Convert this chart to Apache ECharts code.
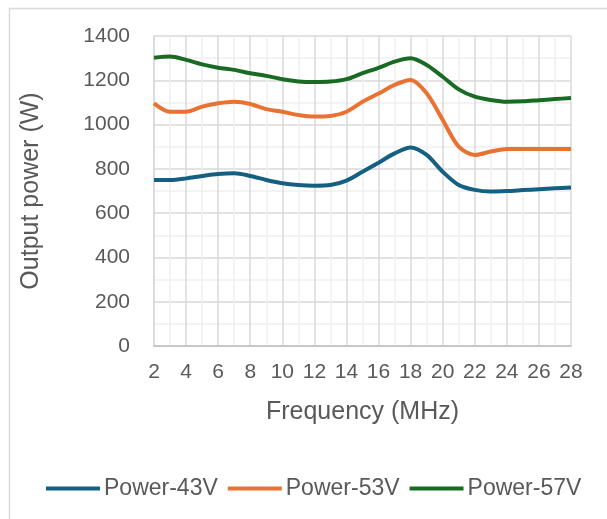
<!DOCTYPE html>
<html lang="en">

<head>
  <meta charset="utf-8">
  <title>Output power vs frequency</title>
  <script src="https://cdn.jsdelivr.net/npm/echarts@6/dist/echarts.min.js"></script>
  <style>
    body {
      margin: 0;
      background: white;
      overflow: hidden;
    }

    main {
      width: 607px;
      height: 519px;
    }
  </style>
</head>

<body>
  <main id="chart"></main>

  <script>
    // --- Data.

    // Frequency points (MHz), one every 1 MHz.
    const FREQUENCIES = [2, 3, 4, 5, 6, 7, 8, 9, 10, 11, 12, 13, 14, 15,
      16, 17, 18, 19, 20, 21, 22, 23, 24, 25, 26, 27, 28];

    // Output power (W) at each frequency.
    const POWER_43V = [750, 750, 757, 768, 777, 780, 768, 750, 735, 727, 724, 727, 747, 787,
      828, 870, 897, 863, 787, 727, 705, 698, 700, 704, 708, 712, 716];
    const POWER_53V = [1096, 1058, 1058, 1081, 1096, 1103, 1093, 1070, 1058, 1043, 1036, 1039, 1058, 1103,
      1140, 1179, 1201, 1141, 1021, 900, 863, 878, 890, 890, 890, 890, 890];
    const POWER_57V = [1302, 1307, 1292, 1272, 1257, 1247, 1232, 1220, 1205, 1195, 1192, 1194, 1205, 1232,
      1256, 1284, 1299, 1269, 1216, 1159, 1126, 1111, 1103, 1105, 1110, 1115, 1120];

    const SERIES_NAMES = ['Power-43V', 'Power-53V', 'Power-57V'];
    const SERIES_VALUES = [POWER_43V, POWER_53V, POWER_57V];
    const SERIES_COLORS = ['#156082', '#e97132', '#196b24'];

    // --- Style constants.

    const FONT = 'Liberation Sans, Arial, sans-serif';
    const TEXT_COLOR = '#595959';
    const GRID_COLOR = '#d9d9d9';
    const MINOR_GRID_COLOR = '#f0f0f0';

    // Pairs a frequency list with a value list for a value x axis.
    function toPoints(values) {
      return FREQUENCIES.map((f, i) => [f, values[i]]);
    }

    function makeOptions() {
      return {
        animation: false,
        textStyle: { fontFamily: FONT, color: TEXT_COLOR },

        // The thin frame Excel draws round the chart area.
        graphic: [{
          type: 'rect',
          left: 7,
          top: 6,
          shape: { width: 640, height: 560 },
          style: { fill: null, stroke: GRID_COLOR, lineWidth: 1.5 }
        }],

        grid: { left: 154, right: 36, top: 36, bottom: 173 },

        legend: {
          bottom: 14,
          left: 41,
          icon: 'rect',
          itemWidth: 54,
          itemHeight: 4,
          itemGap: 10,
          selectedMode: false,
          textStyle: { fontFamily: FONT, fontSize: 23, color: TEXT_COLOR, padding: [0, 0, 0, -1] },
          data: SERIES_NAMES
        },

        xAxis: {
          type: 'value',
          min: 2,
          max: 28,
          interval: 2,
          name: 'Frequency (MHz)',
          nameLocation: 'middle',
          nameGap: 54,
          nameTextStyle: { fontSize: 25, color: TEXT_COLOR },
          axisLine: { show: true, lineStyle: { color: '#bfbfbf', width: 1.5 } },
          axisTick: { show: false },
          axisLabel: { fontSize: 21, color: TEXT_COLOR, margin: 16 },
          splitLine: { show: true, lineStyle: { color: GRID_COLOR, width: 1.5 } },
          minorTick: { show: false, splitNumber: 2 },
          minorSplitLine: { show: true, lineStyle: { color: MINOR_GRID_COLOR, width: 1.5 } }
        },

        yAxis: {
          type: 'value',
          min: 0,
          max: 1400,
          interval: 200,
          name: 'Output power (W)',
          nameLocation: 'middle',
          nameGap: 110,
          nameTextStyle: { fontSize: 25, color: TEXT_COLOR },
          axisLine: { show: true, lineStyle: { color: GRID_COLOR, width: 1.5 } },
          axisTick: { show: false },
          axisLabel: { fontSize: 21, color: TEXT_COLOR, margin: 24, formatter: v => String(v) },
          splitLine: { show: true, lineStyle: { color: GRID_COLOR, width: 1.5 } },
          minorTick: { show: false, splitNumber: 2 },
          minorSplitLine: { show: true, lineStyle: { color: MINOR_GRID_COLOR, width: 1.5 } }
        },

        series: SERIES_NAMES.map((name, i) => ({
          name: name,
          type: 'line',
          smooth: 0.3,
          showSymbol: false,
          color: SERIES_COLORS[i],
          lineStyle: { width: 4, color: SERIES_COLORS[i] },
          data: toPoints(SERIES_VALUES[i])
        }))
      };
    }

    const chart = echarts.init(document.getElementById('chart'));
    chart.setOption(makeOptions());
  </script>
</body>

</html>
